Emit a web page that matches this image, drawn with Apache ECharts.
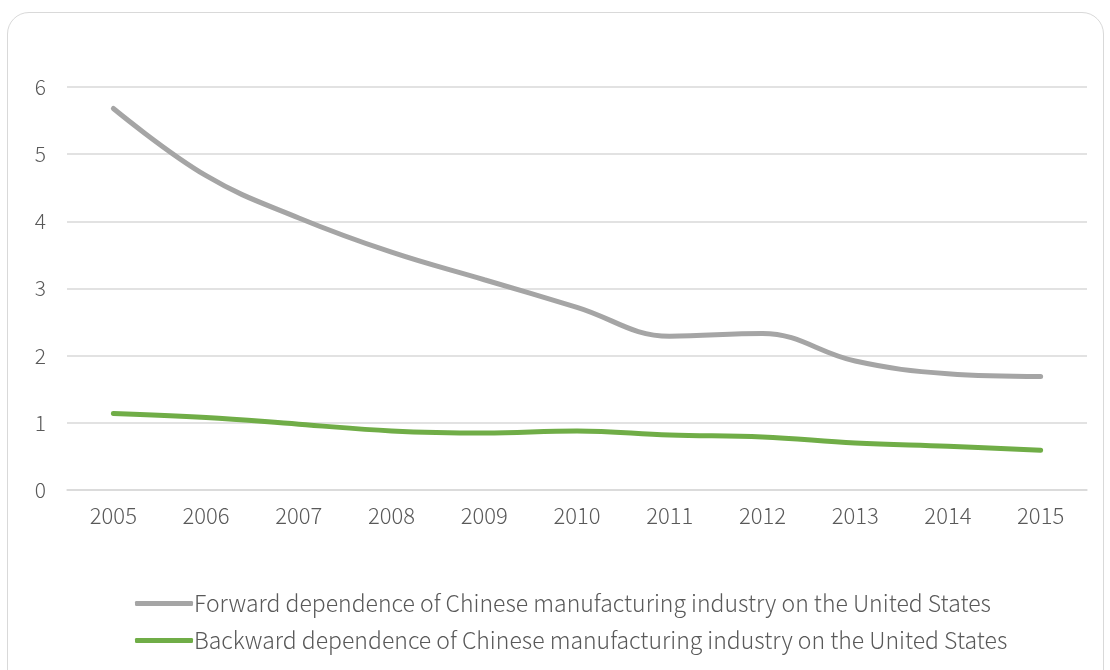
<!DOCTYPE html>
<html>
<head>
<meta charset="utf-8">
<script src="https://cdn.jsdelivr.net/npm/echarts@6/dist/echarts.min.js"></script>
<style>
html,body{margin:0;padding:0;background:#fff;}
#frame{position:absolute;left:7px;top:12px;width:1097px;height:700px;border:1.5px solid #d9d9d9;border-radius:22px;box-sizing:border-box;}
#chart{position:absolute;left:0;top:0;width:1110px;height:670px;}
</style>
</head>
<body>
<div id="frame"></div>
<div id="chart"></div>
<script>
const years = ['2005','2006','2007','2008','2009','2010','2011','2012','2013','2014','2015'];
const forwardName = 'Forward dependence of Chinese manufacturing industry on the United States';
const backwardName = 'Backward dependence of Chinese manufacturing industry on the United States';
const forwardValues = [5.68, 4.68, 4.05, 3.54, 3.13, 2.72, 2.29, 2.33, 1.92, 1.73, 1.69];
const backwardValues = [1.14, 1.08, 0.98, 0.88, 0.85, 0.88, 0.82, 0.79, 0.70, 0.65, 0.59];

const font = '"Noto Sans CJK SC", "Noto Sans", sans-serif';
const chart = echarts.init(document.getElementById('chart'), null, {renderer:'canvas'});
chart.setOption({
  backgroundColor: 'transparent',
  animation: false,
  grid: {left: 67, right: 23, top: 87, bottom: 180, containLabel: false},
  legend: {
    orient: 'vertical',
    left: 130,
    top: 587,
    icon: 'roundRect',
    itemWidth: 58,
    itemHeight: 5,
    itemGap: 14,
    textStyle: {fontFamily: font, fontSize: 23, fontWeight: 300, color: '#595959', padding: [0,0,0,-4]},
    data: [forwardName, backwardName]
  },
  xAxis: {
    type: 'category',
    data: years,
    boundaryGap: true,
    axisLine: {show: true, lineStyle: {color: '#d9d9d9', width: 1.5}},
    axisTick: {show: false},
    axisLabel: {fontFamily: font, fontSize: 22, fontWeight: 300, color: '#595959', margin: 15}
  },
  yAxis: {
    type: 'value',
    min: 0, max: 6, interval: 1,
    axisLine: {show: false},
    axisTick: {show: false},
    splitLine: {lineStyle: {color: '#d9d9d9', width: 1.5}},
    axisLabel: {fontFamily: font, fontSize: 21, fontWeight: 300, color: '#595959', margin: 21}
  },
  series: [
    {
      name: forwardName, type: 'line', data: forwardValues, smooth: 0.4,
      symbol: 'none', lineStyle: {color: '#a5a5a5', width: 5, cap: 'round'},
      itemStyle: {color: '#a5a5a5'}
    },
    {
      name: backwardName, type: 'line', data: backwardValues, smooth: 0.4,
      symbol: 'none', lineStyle: {color: '#70ad47', width: 5, cap: 'round'},
      itemStyle: {color: '#70ad47'}
    }
  ]
});
</script>
</body>
</html>
